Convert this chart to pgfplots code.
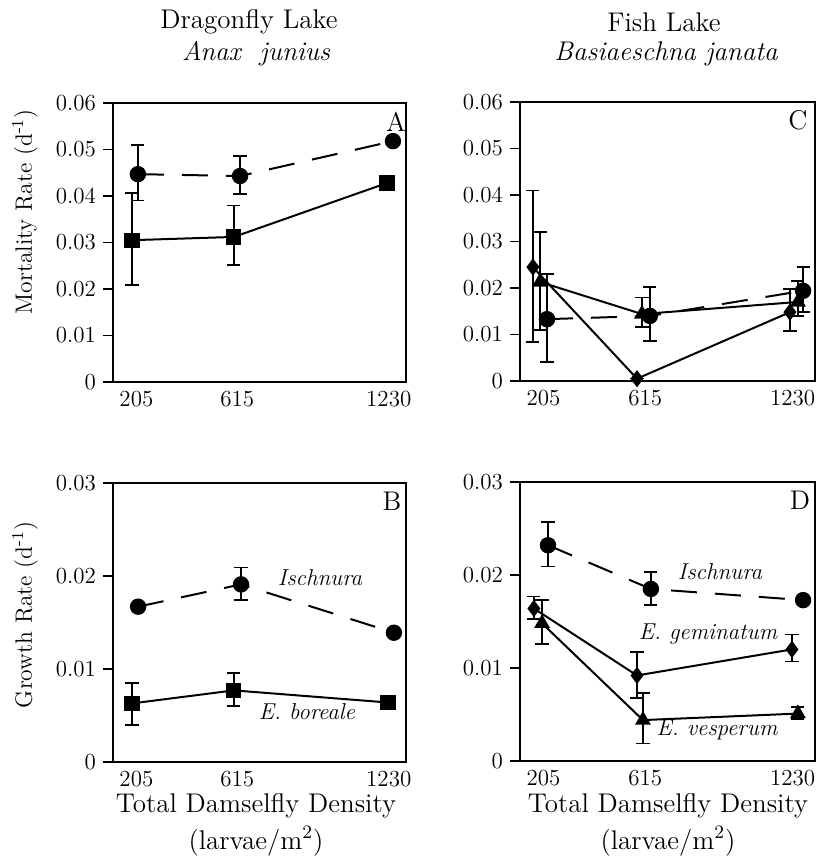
\documentclass[border=0pt]{standalone}
\usepackage{pgfplots}
\pgfplotsset{compat=1.18}
\begin{document}
\begin{tikzpicture}[x=0.5pt,y=-0.5pt]
\path[use as bounding box] (0,0) rectangle (817,858);
\pgfplotsset{
  panel/.style={scale only axis, height=139.5pt, anchor=north west,
    xmin=110, xmax=1300, xtick={205,615,1230}, xticklabels={205,615,1230},
    scaled y ticks=false, scaled x ticks=false,
    xtick style={draw=none}, ytick pos=left, tick align=outside,
    major tick length=5pt, axis line style={line width=0.9pt},
    ytick style={line width=0.7pt, black},
    ticklabel style={font=\fontsize{11.5}{13}\selectfont},
    xticklabel style={yshift=4pt},
    /pgf/number format/assume math mode=true,
    clip=false},
  right panel/.style={xticklabels={205,615,{\hspace*{-5pt}1230}}},
  ser/.style={black, line width=1pt, mark options={solid, fill=black},
    error bars/.cd, y dir=both, y explicit,
    error bar style={line width=0.8pt, solid},
    error mark options={rotate=90, mark size=3.3pt, line width=0.8pt, solid}},
  dashed ser/.style={dash pattern=on 13pt off 9pt, ser},
}
% ---------- Panel A ----------
\begin{axis}[panel, at={(56.5pt,-51.5pt)}, width=146.5pt,
  ymin=0, ymax=0.06, ytick={0,0.01,0.02,0.03,0.04,0.05,0.06},
  yticklabels={0,0.01,0.02,0.03,0.04,0.05,0.06}]
\addplot[mark=*, mark size=3.6pt, dashed ser] coordinates {
  (211,0.0447) += (0,0.0063) -= (0,0.0057)
  (626,0.0443) += (0,0.0043) -= (0,0.0039)
  (1247,0.0518) += (0,0) -= (0,0)};
\addplot[mark=square*, mark size=3.3pt, ser] coordinates {
  (187,0.0305) += (0,0.0101) -= (0,0.0096)
  (601,0.0312) += (0,0.0068) -= (0,0.0060)
  (1223,0.0428) += (0,0) -= (0,0)};
\end{axis}
% ---------- Panel C ----------
\begin{axis}[panel, right panel, at={(260pt,-51pt)}, width=147.5pt,
  ymin=0, ymax=0.06, ytick={0,0.01,0.02,0.03,0.04,0.05,0.06},
  yticklabels={0,0.01,0.02,0.03,0.04,0.05,0.06}]
\addplot[mark=*, mark size=3.6pt, dashed ser] coordinates {
  (219,0.0133) += (0,0.0097) -= (0,0.0092)
  (634,0.0140) += (0,0.0062) -= (0,0.0054)
  (1252,0.0194) += (0,0.0051) -= (0,0.0046)};
\addplot[mark=diamond*, mark size=3.5pt, ser] coordinates {
  (162,0.0245) += (0,0.0165) -= (0,0.0161)
  (582,0.0005) += (0,0) -= (0,0)
  (1199,0.0148) += (0,0.0050) -= (0,0.0040)};
\addplot[mark=triangle*, mark size=3.6pt, ser] coordinates {
  (191,0.0213) += (0,0.0107) -= (0,0.0103)
  (602,0.0144) += (0,0.0036) -= (0,0.0028)
  (1231,0.0170) += (0,0.0045) -= (0,0.0030)};
\end{axis}
% ---------- Panel B ----------
\begin{axis}[panel, at={(56.5pt,-241.5pt)}, width=146.5pt,
  ymin=0, ymax=0.03, ytick={0,0.01,0.02,0.03},
  yticklabels={0,0.01,0.02,0.03}]
\addplot[mark=*, mark size=3.6pt, dashed ser] coordinates {
  (212,0.0167) += (0,0) -= (0,0)
  (630,0.0191) += (0,0.0018) -= (0,0.0017)
  (1251,0.0139) += (0,0) -= (0,0)};
\addplot[mark=square*, mark size=3.3pt, ser] coordinates {
  (187,0.0063) += (0,0.0022) -= (0,0.0023)
  (601,0.0077) += (0,0.0019) -= (0,0.0017)
  (1227,0.0064) += (0,0) -= (0,0)};
\end{axis}
% ---------- Panel D ----------
\begin{axis}[panel, right panel, at={(260pt,-241pt)}, width=147.5pt,
  ymin=0, ymax=0.03, ytick={0,0.01,0.02,0.03},
  yticklabels={0,0.01,0.02,0.03}]
\addplot[mark=*, mark size=3.6pt, dashed ser] coordinates {
  (223,0.0232) += (0,0.0025) -= (0,0.0023)
  (638,0.0185) += (0,0.0018) -= (0,0.0017)
  (1252,0.0173) += (0,0) -= (0,0)};
\addplot[mark=diamond*, mark size=3.5pt, ser] coordinates {
  (166,0.0164) += (0,0.0013) -= (0,0.0011)
  (582,0.0092) += (0,0.0025) -= (0,0.0024)
  (1207,0.0120) += (0,0.0016) -= (0,0.0013)};
\addplot[mark=triangle*, mark size=3.6pt, ser] coordinates {
  (199,0.0148) += (0,0.0025) -= (0,0.0022)
  (606,0.0044) += (0,0.0029) -= (0,0.0025)
  (1231,0.0051) += (0,0.0007) -= (0,0.0006)};
\end{axis}
% ---------- Text ----------
\begin{scope}[every node/.style={font=\fontsize{13.5}{16}\selectfont}]
\node at (249,22) {Dragonfly Lake};
\node at (256,54) {\itshape Anax\ \ junius};
\node at (664,22) {Fish Lake};
\node at (666,54) {\itshape Basiaeschna janata};
\node[rotate=90, font=\fontsize{11.8}{14}\selectfont] at (25,212) {Mortality Rate (d\textsuperscript{-1})};
\node[rotate=90, font=\fontsize{11.8}{14}\selectfont] at (25,615) {Growth Rate (d\textsuperscript{-1})};
\node at (256,806) {Total Damselfly Density};
\node at (256,841) {(larvae/m\textsuperscript{2})};
\node at (668,806) {Total Damselfly Density};
\node at (668,841) {(larvae/m\textsuperscript{2})};
\node at (396,122) {A};
\node at (798,120) {C};
\node at (392,501) {B};
\node at (800,500) {D};
\end{scope}
\begin{scope}[every node/.style={font=\fontsize{11.5}{13}\selectfont\itshape}]
\node at (320,578) {Ischnura};
\node at (307,712) {E. boreale};
\node at (720,572) {Ischnura};
\node at (708,634) {E. geminatum};
\node at (717,730) {E. vesperum};
\end{scope}
\end{tikzpicture}
\end{document}
